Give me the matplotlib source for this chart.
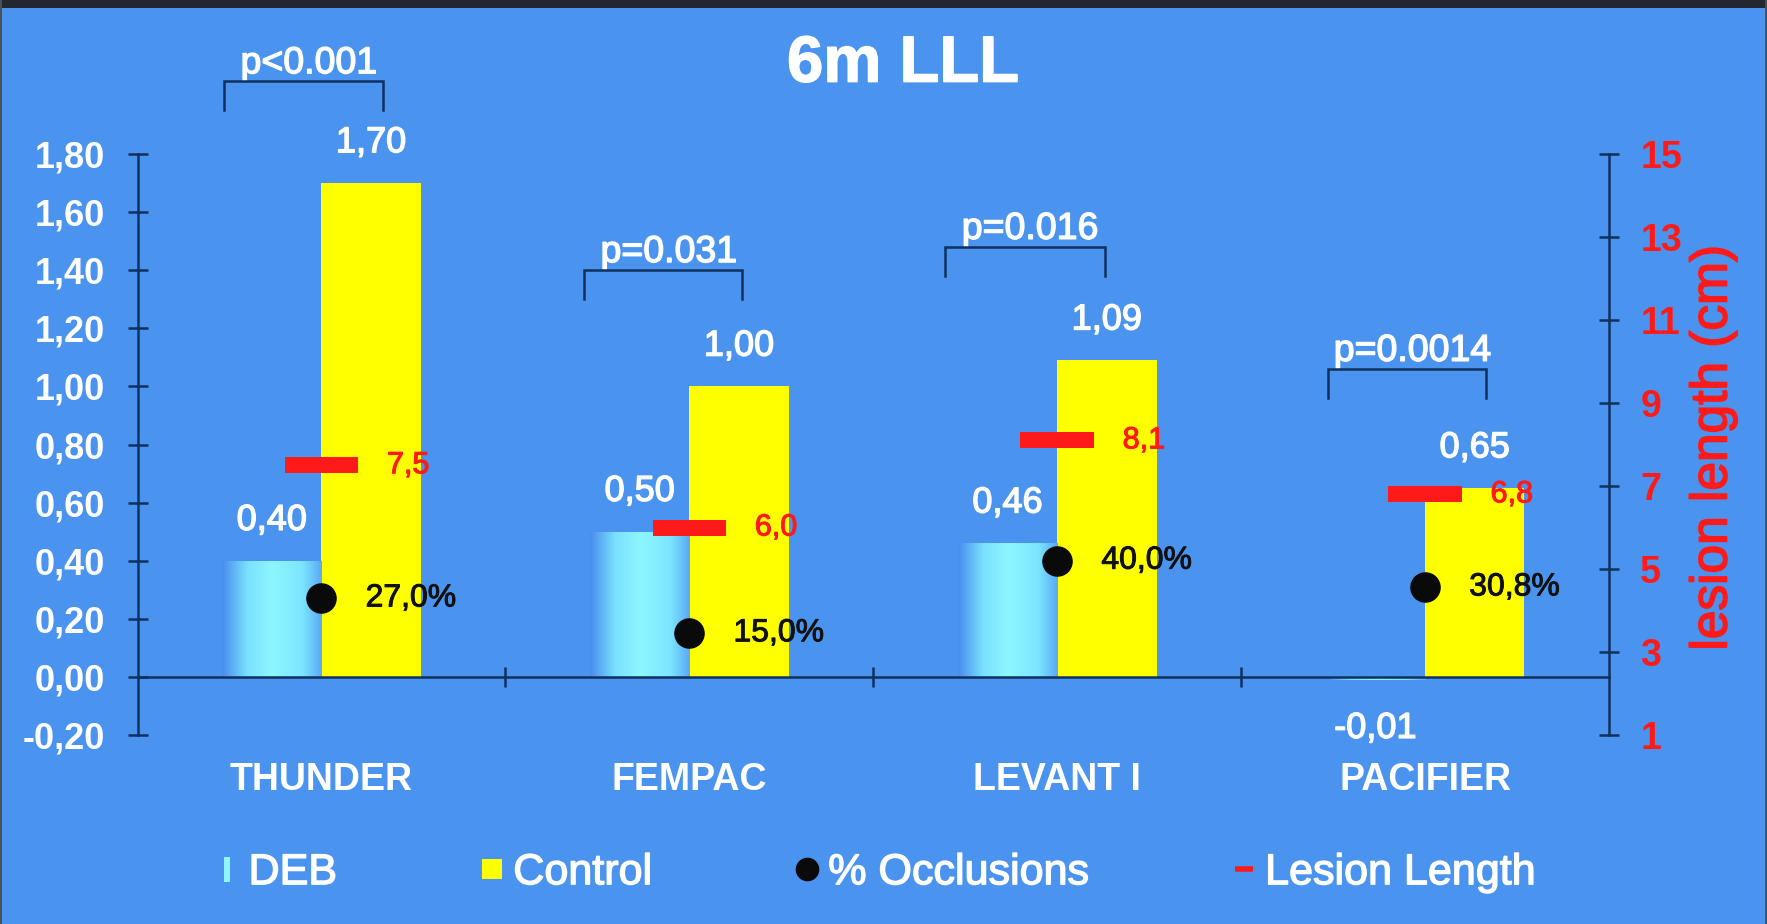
import numpy as np
import matplotlib
matplotlib.use("Agg")
import matplotlib.pyplot as plt
import matplotlib.patheffects as pe
from matplotlib.colors import LinearSegmentedColormap
from matplotlib.lines import Line2D
from matplotlib.patches import Rectangle

# ---------------- data ----------------
categories = ["THUNDER", "FEMPAC", "LEVANT I", "PACIFIER"]
deb_lll = [0.40, 0.50, 0.46, -0.01]
control_lll = [1.70, 1.00, 1.09, 0.65]
occlusion_pct = [27.0, 15.0, 40.0, 30.8]
lesion_length_cm = [7.5, 6.0, 8.1, 6.8]
p_values = ["p<0.001", "p=0.031", "p=0.016", "p=0.0014"]
left_ticks = [-0.20, 0.00, 0.20, 0.40, 0.60, 0.80, 1.00, 1.20, 1.40, 1.60, 1.80]
right_ticks = [1, 3, 5, 7, 9, 11, 13, 15]
legend_labels = ["DEB", "Control", "% Occlusions", "Lesion Length"]
title = "6m LLL"

# layout of the significance brackets (left offset, right offset, height)
bracket_left = [-0.266, -0.285, -0.306, -0.263]
bracket_right = [0.168, 0.144, 0.129, 0.165]
bracket_top = [2.05, 1.40, 1.48, 1.06]

# ---------------- style ----------------
BG = "#4A93EE"
NAVY = "#10305E"
YELLOW = "#FFFF00"
RED = "#FF1A1A"
FONT = ["Liberation Sans", "DejaVu Sans"]
plt.rcParams["font.family"] = FONT
heavy_white = [pe.withStroke(linewidth=1.0, foreground="white")]
heavy_red = [pe.withStroke(linewidth=0.8, foreground=RED)]


def fmt(v, nd=2):
    return f"{v:.{nd}f}".replace(".", ",")


fig = plt.figure(figsize=(17.67, 9.24), dpi=100, facecolor=BG)
# dark frame strips
fig.patches.append(Rectangle((0, 1 - 8 / 924), 1, 8 / 924, transform=fig.transFigure,
                             facecolor="#23272E", edgecolor="none", zorder=0))
fig.patches.append(Rectangle((0, 0), 2 / 1767, 1, transform=fig.transFigure,
                             facecolor="#4B4F57", edgecolor="none", zorder=0))
fig.patches.append(Rectangle((1 - 2 / 1767, 0), 2 / 1767, 1, transform=fig.transFigure,
                             facecolor="#4B4F57", edgecolor="none", zorder=0))

ax = fig.add_axes([137.5 / 1767, 1 - 735 / 924, (1609 - 137.5) / 1767, (735 - 154) / 924])
ax.set_facecolor("none")
ax2 = ax.twinx()

x = np.arange(len(categories))
w = 0.27

# DEB bars with horizontal gradient
deb_cmap = LinearSegmentedColormap.from_list(
    "deb", [(0.0, "#4A8CEB"), (0.25, "#78E0FF"), (0.5, "#8EF6FF"),
            (0.8, "#7CE6FF"), (1.0, "#5AAAF2")])
deb_bars = ax.bar(x - w / 2, deb_lll, width=w, color="#8EF6FF", edgecolor="none", zorder=2)
grad = np.linspace(0, 1, 256).reshape(1, -1)
for b in deb_bars:
    x0, y0 = b.get_x(), b.get_y()
    bw, bh = b.get_width(), b.get_height()
    im = ax.imshow(grad, cmap=deb_cmap, aspect="auto", zorder=2.1,
                   extent=[x0, x0 + bw, min(y0, y0 + bh), max(y0, y0 + bh)])
    im.set_clip_path(b)

ctrl_bars = ax.bar(x + w / 2, control_lll, width=w, color=YELLOW, edgecolor="none", zorder=2)

# value labels
for b, v in list(zip(deb_bars, deb_lll)) + list(zip(ctrl_bars, control_lll)):
    cx = b.get_x() + b.get_width() / 2
    off = 29 if v >= 0 else -35
    ax.annotate(fmt(v), (cx, v), xytext=(0, off), textcoords="offset points",
                ha="center", va="center", color="white", fontsize=26, zorder=6,
                path_effects=heavy_white)

# occlusion dots (left-axis scale, fraction)
occ = np.array(occlusion_pct) / 100
ax.plot(x, occ, linestyle="none", marker="o", markersize=21, color="#0A0A0A", zorder=5)
for xi, v, p in zip(x, occ, occlusion_pct):
    ax.text(xi + 0.12, v, fmt(p, 1) + "%", ha="left", va="center", fontsize=23,
            color="#111111", zorder=6,
            path_effects=[pe.withStroke(linewidth=0.7, foreground="#111111")])

# lesion length markers on right axis
ax2.hlines(lesion_length_cm, x - 0.1, x + 0.1, colors=RED, linewidth=11.5,
           capstyle="butt", zorder=5)
for xi, v in zip(x, lesion_length_cm):
    ax2.text(xi + 0.178, v, fmt(v, 1), ha="left", va="center", fontsize=22,
             color=RED, zorder=6, path_effects=heavy_red)

# significance brackets
for xi, l, r, t, p in zip(x, bracket_left, bracket_right, bracket_top, p_values):
    ax.plot([xi + l, xi + l, xi + r, xi + r], [t - 0.10, t, t, t - 0.10],
            color=NAVY, linewidth=1.8, clip_on=False, zorder=4, solid_joinstyle="miter")
    ax.text(xi + (l + r) / 2 + 0.015, t + 0.028, p, ha="center", va="baseline",
            fontsize=27, color="white", clip_on=False, path_effects=heavy_white)

# category labels
for xi, c in zip(x, categories):
    ax.text(xi, -0.355, c, ha="center", va="center", fontsize=27, fontweight="bold",
            color="white", clip_on=False)

# axes styling
ax.set_xlim(-0.5, len(categories) - 0.5)
ax.set_ylim(-0.2, 1.8)
ax2.set_ylim(1, 15)
ax.set_yticks(left_ticks)
ax.set_yticklabels([fmt(t) for t in left_ticks])
ax2.set_yticks(right_ticks)
ax2.set_yticklabels([str(t) for t in right_ticks])
ax.set_xticks(x[:-1] + 0.5)
ax.set_xticklabels([])

for s in ["top", "right"]:
    ax.spines[s].set_visible(False)
ax.spines["bottom"].set_position(("data", 0))
for s in ["top", "left", "bottom"]:
    ax2.spines[s].set_visible(False)
for sp in [ax.spines["left"], ax.spines["bottom"], ax2.spines["right"]]:
    sp.set_color(NAVY)
    sp.set_linewidth(1.8)

ax.tick_params(axis="y", direction="inout", length=15, width=1.8, color=NAVY,
               pad=16, labelsize=26, labelcolor="white")
for lab in ax.get_yticklabels():
    lab.set_fontweight("bold")
ax.tick_params(axis="x", direction="inout", length=15, width=1.8, color=NAVY)
ax2.tick_params(axis="y", direction="inout", length=15, width=1.8, color=NAVY,
                pad=15, labelsize=27, labelcolor=RED)
for lab in ax2.get_yticklabels():
    lab.set_fontweight("bold")

fig.text(1713 / 1767, 0.515, "lesion length (cm)", rotation=90, ha="center", va="center",
         fontsize=37, color=RED, path_effects=[pe.withStroke(linewidth=1.2, foreground=RED)])

fig.text(0.511, 0.930, title, ha="center", va="center", fontsize=47,
         fontweight="bold", color="white", path_effects=heavy_white)

# legend
handles = [
    Line2D([], [], linestyle="none",
           marker=[(-0.25, -1), (0.25, -1), (0.25, 1), (-0.25, 1)],
           markersize=18, markerfacecolor="#8EF6FF", markeredgewidth=0),
    Line2D([], [], linestyle="none", marker="s", markersize=14,
           markerfacecolor=YELLOW, markeredgewidth=0),
    Line2D([], [], linestyle="none", marker="o", markersize=17,
           markerfacecolor="#0A0A0A", markeredgewidth=0),
    Line2D([], [], linestyle="none", marker="_", markersize=13,
           markeredgecolor=RED, markeredgewidth=4),
]
leg = fig.legend(handles, legend_labels, loc="center", bbox_to_anchor=(0.495, 0.055),
                 ncol=4, frameon=False, fontsize=31, labelcolor="white",
                 handlelength=0.6, handletextpad=0.2, columnspacing=3.3, borderpad=0)
for t in leg.get_texts():
    t.set_path_effects(heavy_white)

fig.savefig("out.png", dpi=100, facecolor=BG)
